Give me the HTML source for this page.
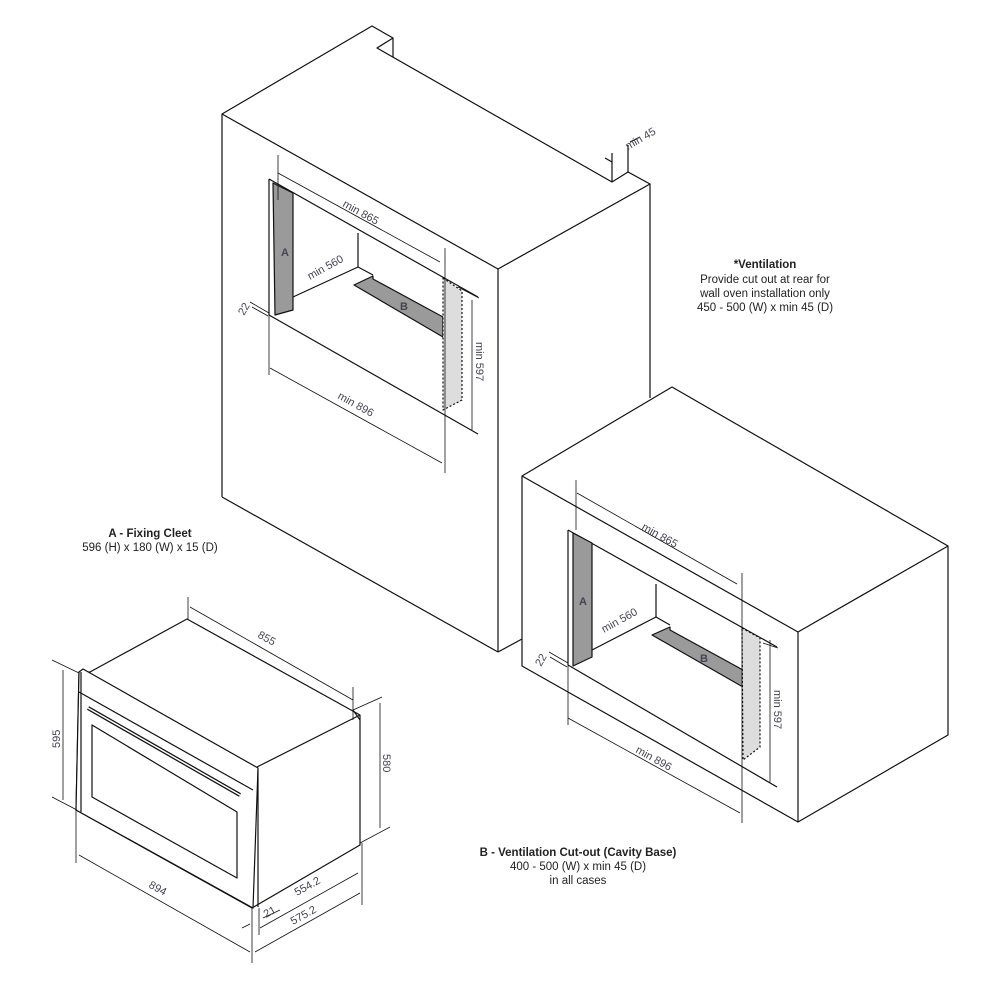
<!DOCTYPE html>
<html><head><meta charset="utf-8"><style>
html,body{margin:0;padding:0;background:#fff;}
svg{display:block;}
text{font-family:"Liberation Sans",sans-serif;fill:#333;}
.d{font-size:11px;fill:#445;}
.l{font-size:11.5px;fill:#222;text-anchor:middle;}
.b{font-weight:bold;}
</style></head><body>
<svg width="1000" height="1000" viewBox="0 0 1000 1000" xmlns="http://www.w3.org/2000/svg">
<g fill="none" stroke="#111" stroke-width="1.2" stroke-linejoin="round">
<!-- TOP CABINET -->
<polygon points="222,114 372,26 393,38 377,48 612,182 628,172 650,184 650,398 522,470 522,639 498,652 222,497" fill="#fff" stroke="none"/>
<polyline points="222,497 222,114 372,26 393,38 377,48 612,182 628,172 650,184 650,398"/>
<line x1="393" y1="38" x2="393" y2="57"/>
<line x1="222" y1="497" x2="498" y2="652"/>
<line x1="222" y1="114" x2="498" y2="269"/>
<line x1="498" y1="269" x2="650" y2="184"/>
<line x1="498" y1="269" x2="498" y2="652"/>
<line x1="612" y1="153" x2="612" y2="182"/>
<line x1="628" y1="145" x2="628" y2="172"/>
<line x1="605" y1="158" x2="612" y2="162"/>
<line x1="630" y1="142" x2="640" y2="137"/>
<!-- opening -->
<line x1="269" y1="179" x2="269" y2="315"/>
<line x1="269" y1="179" x2="478" y2="297"/>
<line x1="269" y1="315" x2="478" y2="434"/>
<line x1="358" y1="233" x2="358" y2="267"/>
<line x1="293" y1="297" x2="358" y2="267"/>
<line x1="358" y1="267" x2="373" y2="275"/>
<polygon points="273,183 293,193 293,310 275,315" fill="#9a9a9a"/>
<polygon points="354,285 373,276 373,279 443,317 443,337" fill="#9a9a9a"/>
<polygon points="443,278 462,291 462,400 443,410" fill="#ddd" stroke-dasharray="2,2"/>
<!-- dims top -->
<line x1="278" y1="155" x2="278" y2="200" stroke-width="0.8"/>
<line x1="445" y1="248" x2="445" y2="473" stroke-width="0.8"/>
<line x1="269" y1="315" x2="269" y2="375" stroke-width="0.8"/>
<line x1="278" y1="173" x2="440" y2="262" stroke-width="0.8"/>
<line x1="270" y1="368" x2="442" y2="463" stroke-width="0.8"/>
<line x1="472" y1="300" x2="472" y2="430" stroke-width="0.8"/>
<line x1="458" y1="287" x2="479" y2="298" stroke-width="0.8"/>
<line x1="250" y1="302" x2="269" y2="313" stroke-width="0.8"/>
<line x1="252" y1="307" x2="268" y2="316" stroke-width="0.8"/>

<!-- LOWER CABINET -->
<line x1="498" y1="652" x2="522" y2="639"/>
<polygon points="522,476 672,387 948,546 948,735 798,822 522,666" fill="#fff"/>
<line x1="522" y1="476" x2="798" y2="632"/>
<line x1="798" y1="632" x2="948" y2="546"/>
<line x1="798" y1="632" x2="798" y2="822"/>
<line x1="568" y1="530" x2="568" y2="665"/>
<line x1="568" y1="530" x2="777" y2="647"/>
<line x1="568" y1="665" x2="777" y2="787"/>
<line x1="656" y1="584" x2="656" y2="617"/>
<line x1="592" y1="650" x2="656" y2="617"/>
<line x1="656" y1="617" x2="670" y2="625"/>
<polygon points="573,533 592,543 592,657 573,666" fill="#9a9a9a"/>
<polygon points="652,635 670,627 670,630 743,670 743,687" fill="#9a9a9a"/>
<polygon points="742,628 760,638 760,747 743,760" fill="#ddd" stroke-dasharray="2,2"/>
<line x1="576" y1="480" x2="576" y2="530" stroke-width="0.8"/>
<line x1="742" y1="573" x2="742" y2="823" stroke-width="0.8"/>
<line x1="568" y1="665" x2="568" y2="725" stroke-width="0.8"/>
<line x1="577" y1="493" x2="737" y2="584" stroke-width="0.8"/>
<line x1="568" y1="718" x2="740" y2="813" stroke-width="0.8"/>
<line x1="770" y1="640" x2="770" y2="782" stroke-width="0.8"/>
<line x1="763" y1="643" x2="778" y2="648" stroke-width="0.8"/>
<line x1="549" y1="652" x2="568" y2="663" stroke-width="0.8"/>
<line x1="550" y1="657" x2="567" y2="667" stroke-width="0.8"/>

<!-- OVEN -->
<polygon points="90,672 187,619 360,715 360,845 252,908 76,810 79,672" fill="#fff"/>
<line x1="257" y1="767" x2="360" y2="715"/>
<polygon points="79,672 83,669 258,768 253,908 76,810" fill="#fff"/>
<line x1="81" y1="672" x2="81" y2="812"/>
<line x1="258" y1="770" x2="258" y2="907"/>
<line x1="79" y1="692" x2="253" y2="790"/>
<polygon points="92,725 237,812 237,878 92,797"/>
<line x1="88" y1="708" x2="240" y2="795" stroke-width="4"/>
<line x1="88" y1="708" x2="240" y2="795" stroke="#fff" stroke-width="1.5"/>
<line x1="353" y1="710" x2="360" y2="720"/>
<!-- oven dims -->
<line x1="188" y1="597" x2="188" y2="619" stroke-width="0.8"/>
<line x1="190" y1="607" x2="353" y2="700" stroke-width="0.8"/>
<line x1="353" y1="687" x2="353" y2="720" stroke-width="0.8"/>
<line x1="63" y1="670" x2="63" y2="800" stroke-width="0.8"/>
<line x1="52" y1="660" x2="79" y2="673" stroke-width="0.8"/>
<line x1="52" y1="797" x2="77" y2="810" stroke-width="0.8"/>
<line x1="380" y1="703" x2="380" y2="828" stroke-width="0.8"/>
<line x1="353" y1="710" x2="382" y2="697" stroke-width="0.8"/>
<line x1="360" y1="843" x2="390" y2="827" stroke-width="0.8"/>
<line x1="76" y1="810" x2="76" y2="863" stroke-width="0.8"/>
<line x1="252" y1="908" x2="252" y2="963" stroke-width="0.8"/>
<line x1="79" y1="855" x2="250" y2="952" stroke-width="0.8"/>
<line x1="259" y1="908" x2="259" y2="935" stroke-width="0.8"/>
<line x1="362" y1="843" x2="362" y2="905" stroke-width="0.8"/>
<line x1="260" y1="928" x2="358" y2="873" stroke-width="0.8"/>
<line x1="255" y1="952" x2="360" y2="893" stroke-width="0.8"/>
<line x1="263" y1="918" x2="280" y2="910" stroke-width="0.8"/>
<line x1="242" y1="928" x2="250" y2="924" stroke-width="0.8"/>
</g>

<!-- dimension text -->
<text class="d" transform="translate(342,206) rotate(29)">min 865</text>
<text class="d" transform="translate(310,280) rotate(-29)">min 560</text>
<text class="d" transform="translate(337,398) rotate(29)">min 896</text>
<text class="d" transform="translate(476,342) rotate(90)">min 597</text>
<text class="d" transform="translate(244,316) rotate(-60)">22</text>
<text class="d" transform="translate(628,150) rotate(-30)">min 45</text>
<text class="d b" x="281" y="256" font-size="10">A</text>
<text class="d b" x="400" y="310" font-size="9">B</text>

<text class="d" transform="translate(641,529) rotate(29)">min 865</text>
<text class="d" transform="translate(604,633) rotate(-29)">min 560</text>
<text class="d" transform="translate(635,752) rotate(29)">min 896</text>
<text class="d" transform="translate(774,690) rotate(90)">min 597</text>
<text class="d" transform="translate(541,667) rotate(-60)">22</text>
<text class="d b" x="579" y="605" font-size="10">A</text>
<text class="d b" x="700" y="662" font-size="9">B</text>

<text class="d" transform="translate(257,637) rotate(29)">855</text>
<text class="d" transform="translate(60,748) rotate(-90)">595</text>
<text class="d" transform="translate(383,754) rotate(90)">580</text>
<text class="d" transform="translate(148,887) rotate(29)">894</text>
<text class="d" transform="translate(297,896) rotate(-29)">554.2</text>
<text class="d" transform="translate(293,925) rotate(-29)">575.2</text>
<text class="d" transform="translate(266,918) rotate(-29)">21</text>

<!-- labels -->
<text class="l b" x="765" y="268">*Ventilation</text>
<text class="l" x="765" y="283">Provide cut out at rear for</text>
<text class="l" x="765" y="297">wall oven installation only</text>
<text class="l" x="765" y="311">450 - 500 (W) x min 45 (D)</text>
<text class="l b" x="150" y="537">A - Fixing Cleet</text>
<text class="l" x="150" y="551">596 (H) x 180 (W) x 15 (D)</text>
<text class="l b" x="578" y="856">B - Ventilation Cut-out (Cavity Base)</text>
<text class="l" x="578" y="870">400 - 500 (W) x min 45 (D)</text>
<text class="l" x="578" y="884">in all cases</text>
</svg>
</body></html>
